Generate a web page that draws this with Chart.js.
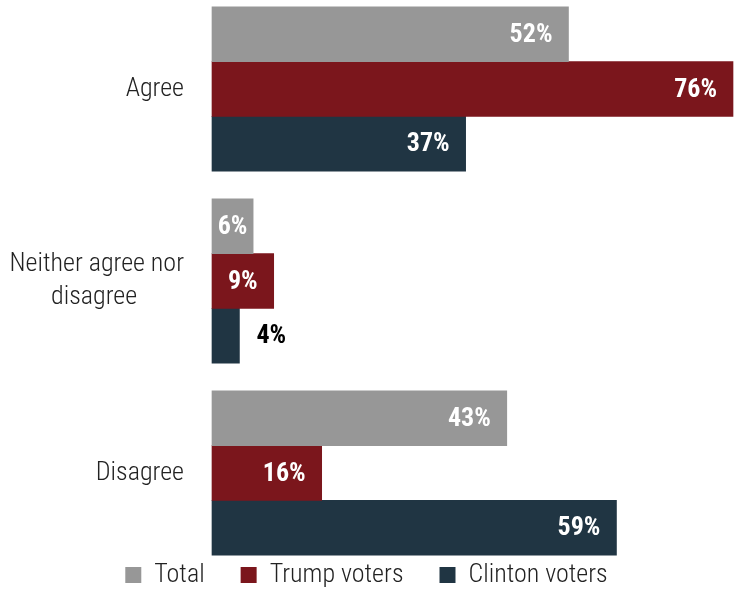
<!DOCTYPE html>
<html>
<head>
<meta charset="utf-8">
<script src="https://cdn.jsdelivr.net/npm/chart.js@4.4.0/dist/chart.umd.min.js"></script>
<style>
  html, body { margin: 0; padding: 0; background: #fff; }
</style>
</head>
<body>
<canvas id="myChart" width="741" height="593"></canvas>
<script>
// Survey answers by group
const NB = '\u00a0';
const categories = ['Agree', ['Neither agree nor', 'disagree' + NB.repeat(8)], 'Disagree'];
const totalValues = [52, 6, 43];
const trumpValues = [76, 9, 16];
const clintonValues = [37, 4, 59];

const FONT = "'Roboto Condensed', 'Liberation Sans Narrow', 'DejaVu Sans Condensed', Roboto, sans-serif";

// Percent labels at the end of each bar (outside when the bar is too short)
const barLabels = {
    id: 'barLabels',
    afterDatasetsDraw(chart) {
        const ctx = chart.ctx;
        ctx.save();
        ctx.font = 'bold 26px ' + FONT;
        ctx.textBaseline = 'middle';
        chart.data.datasets.forEach((ds, i) => {
            chart.getDatasetMeta(i).data.forEach((bar, j) => {
                const text = ds.data[j] + '%';
                const w = ctx.measureText(text).width;
                const start = bar.base, end = bar.x;
                if (w + 6 > end - start) {
                    ctx.fillStyle = '#000';
                    ctx.textAlign = 'left';
                    ctx.fillText(text, end + 17, bar.y + 1);
                } else {
                    ctx.fillStyle = '#fff';
                    ctx.textAlign = 'right';
                    const right = Math.max(end - 16, (start + end) / 2 + w / 2);
                    ctx.fillText(text, right, bar.y + 1);
                }
            });
        });
        ctx.restore();
    }
};

const ctx = document.getElementById('myChart').getContext('2d');
const myChart = new Chart(ctx, {
    type: 'bar',
    data: {
        labels: categories,
        datasets: [
            { label: 'Total', data: totalValues, backgroundColor: '#979797' },
            { label: 'Trump voters', data: trumpValues, backgroundColor: '#7b161c' },
            { label: 'Clinton voters', data: clintonValues, backgroundColor: '#203543' }
        ].map(d => Object.assign(d, { barThickness: 54.7, borderWidth: 0, clip: false }))
    },
    plugins: [barLabels],
    options: {
        indexAxis: 'y',
        responsive: false,
        animation: false,
        layout: { padding: { top: 89, right: 8, left: 0, bottom: -5 } },
        scales: {
            x: {
                min: 0,
                max: 76,
                grid: { display: false },
                border: { display: false },
                ticks: { display: false },
                afterFit(scale) { scale.height = 53; }
            },
            y: {
                offset: false,
                grid: { display: false },
                border: { display: false },
                ticks: {
                    color: '#222',
                    padding: 20,
                    font: { family: FONT, size: 26, weight: 300, lineHeight: 1.3 }
                },
                afterFit(scale) { scale.width = 212; }
            }
        },
        plugins: {
            tooltip: { enabled: false },
            legend: {
                position: 'bottom',
                labels: {
                    boxWidth: 16,
                    boxHeight: 16,
                    padding: 36,
                    color: '#222',
                    font: { family: FONT, size: 26, weight: 300 }
                }
            }
        }
    }
});
</script>
</body>
</html>
